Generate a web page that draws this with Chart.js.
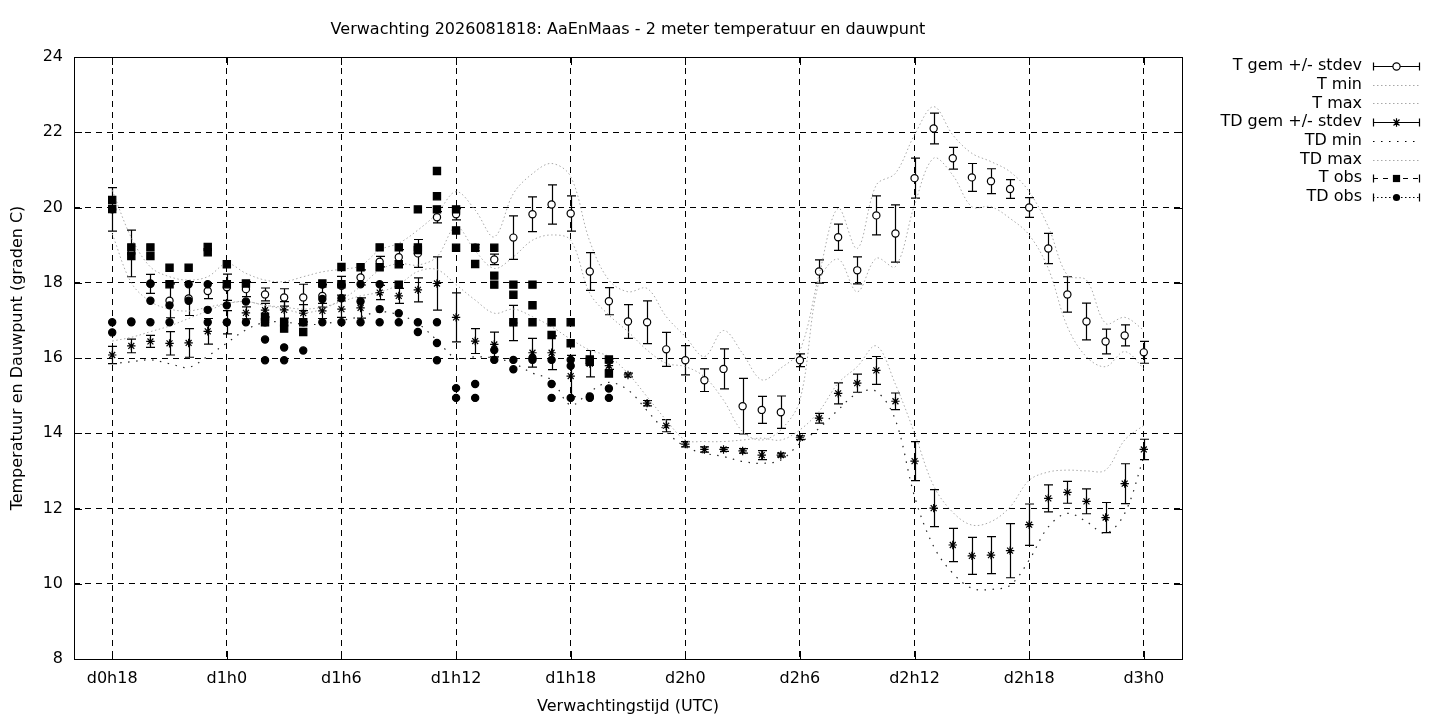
<!DOCTYPE html>
<html><head><meta charset="utf-8">
<script src="https://cdn.jsdelivr.net/npm/chart.js@4.4.0/dist/chart.umd.min.js"></script>
<style>html,body{margin:0;padding:0;background:#fff;overflow:hidden}canvas{display:block}</style>
</head><body>
<canvas id="c" width="1440" height="720" style="width:1440px;height:720px"></canvas>
<script>
// ---- data ----
const titleText = 'Verwachting 2026081818: AaEnMaas - 2 meter temperatuur en dauwpunt';
const xTitle = 'Verwachtingstijd (UTC)';
const yTitle = 'Temperatuur en Dauwpunt (graden C)';
const seriesNames = ['T gem +/- stdev','T min','T max','TD gem +/- stdev','TD min','TD max','T obs','TD obs'];

const hours = [18,19,20,21,22,23,24,25,26,27,28,29,30,31,32,33,34,35,36,37,38,39,40,41,42,43,44,45,
  46,47,48,49,50,51,52,53,54,55,56,57,58,59,60,61,62,63,64,65,66,67,68,69,70,71,72];
const tickHours = [18,24,30,36,42,48,54,60,66,72];
const tickLabels = ['d0h18','d1h0','d1h6','d1h12','d1h18','d2h0','d2h6','d2h12','d2h18','d3h0'];

const tMean = [19.95,18.78,17.97,17.52,17.58,17.78,17.88,17.83,17.69,17.61,17.61,17.65,17.92,18.14,18.56,18.68,18.78,19.74,19.82,18.93,
  18.62,19.20,19.82,20.08,19.84,18.30,17.51,16.97,16.95,16.23,15.94,15.41,15.71,14.72,14.62,14.56,15.94,18.30,19.21,18.33,
  19.79,19.31,20.78,22.10,21.31,20.80,20.70,20.49,20.00,18.91,17.69,16.97,16.44,16.60,16.15];
const tStd = [0.58,0.62,0.25,0.45,0.45,0.20,0.35,0.20,0.17,0.23,0.35,0.30,0.25,0.20,0.14,0.20,0.37,0.15,0.15,0.08,
  0.14,0.58,0.46,0.52,0.47,0.50,0.36,0.45,0.57,0.45,0.39,0.30,0.53,0.74,0.36,0.43,0.17,0.31,0.35,0.36,
  0.52,0.76,0.53,0.41,0.29,0.37,0.33,0.25,0.26,0.40,0.47,0.49,0.33,0.28,0.29];
const tMin = [19.30,18.00,17.50,17.30,17.25,17.35,17.45,17.50,17.40,17.30,17.20,17.30,17.55,17.90,18.34,18.51,18.47,18.69,19.49,18.85,
  18.38,18.69,19.13,19.27,19.13,17.72,17.14,16.70,16.21,15.86,15.77,15.50,14.88,14.04,13.82,14.09,14.88,18.03,18.63,17.76,
  18.65,18.43,20.07,21.31,20.86,20.02,20.02,19.71,19.27,18.38,16.83,16.03,15.77,16.17,15.72];
const tMax = [20.46,19.20,18.42,18.16,18.07,18.16,18.51,18.25,18.07,18.03,18.16,18.29,18.36,18.45,18.87,19.05,19.40,19.84,20.42,19.93,
  19.22,20.37,20.90,21.17,20.82,19.10,18.07,17.76,17.85,17.10,16.57,16.04,16.73,16.12,15.42,15.73,16.20,18.21,19.98,18.91,
  20.60,20.91,21.93,22.68,21.93,21.44,21.22,20.95,20.42,19.49,18.20,18.07,16.92,17.08,16.74];

const tdMean = [16.08,16.32,16.44,16.39,16.40,16.71,16.95,17.20,17.27,17.28,17.19,17.25,17.30,17.33,17.74,17.65,17.81,17.98,17.08,16.45,
  16.36,16.93,16.14,16.14,15.52,15.85,15.80,15.55,14.80,14.20,13.71,13.57,13.57,13.53,13.42,13.42,13.88,14.40,15.06,15.33,
  15.67,14.85,13.26,12.01,11.03,10.74,10.76,10.88,11.57,12.27,12.43,12.19,11.76,12.66,13.57];
const tdStd = [0.23,0.18,0.16,0.31,0.38,0.34,0.31,0.16,0.18,0.22,0.23,0.20,0.22,0.27,0.19,0.20,0.32,0.71,0.65,0.33,
  0.33,0.47,0.38,0.45,0.55,0.35,0.10,0.05,0.07,0.16,0.07,0.07,0.05,0.06,0.12,0.05,0.05,0.13,0.28,0.24,
  0.37,0.22,0.52,0.49,0.44,0.49,0.49,0.72,0.55,0.36,0.29,0.33,0.40,0.53,0.27];
const tdMin = [15.85,15.90,15.95,15.85,15.75,16.05,16.40,16.75,16.95,16.95,16.90,16.90,17.00,17.10,17.23,17.15,16.92,16.47,15.99,16.03,
  16.00,15.86,15.60,15.41,14.75,15.10,15.35,15.15,14.60,14.04,13.64,13.47,13.38,13.25,13.20,13.29,13.73,14.13,14.62,15.06,
  15.11,14.35,12.32,10.99,10.28,9.88,9.85,9.96,10.63,11.51,11.87,11.65,11.34,11.87,13.37];
const tdMax = [16.45,16.55,16.70,16.85,17.05,17.25,17.45,17.50,17.40,17.35,17.30,17.35,17.50,17.65,17.75,17.95,18.30,18.35,17.95,17.54,
  17.19,17.30,17.10,16.83,16.50,16.21,16.04,15.59,14.97,14.35,13.82,13.78,13.78,13.82,13.87,13.82,14.09,14.58,15.33,15.77,
  16.32,15.30,14.00,12.60,11.90,11.56,11.65,12.04,12.75,12.97,13.02,13.00,13.02,13.82,14.21];

const obsHours = [18,19,20,21,22,23,24,25,26,27,28,29,30,31,32,33,34,35,36,37,38,39,40,41,42,43,44];
const tObs = [[20.20,19.96],[18.94,18.71],[18.94,18.71],[18.40,17.96],[18.40],[18.95,18.81],[18.49,17.96],[17.98],
  [17.10,16.95],[16.95,16.78],[16.95,16.69],[17.98],[18.42,17.96],[18.41],[18.94,18.41],[18.94,18.49,17.95],
  [19.95,18.94,18.87],[20.97,20.30,19.95],[19.95,19.39,18.93],[18.93,18.50],[18.93,18.19,17.95],[17.95,17.68,16.95],
  [17.95,17.40,16.95],[16.95,16.61],[16.95,16.39],[15.96,15.90],[15.96,15.59]];
const tdObs = [[16.95,16.68],[16.97,16.95],[17.98,17.52,16.95],[17.40,16.95],[17.96,17.52],[17.96,17.28,16.95],[17.40,16.95],
  [17.50,16.95],[16.95,16.49,15.94],[16.95,16.28,15.94],[16.95,16.20],[17.95,17.57,16.95],[17.95,17.59,16.95],
  [17.96,17.50,16.95],[17.96,17.30,16.95],[17.19,16.95],[16.95,16.69],[16.95,16.40,15.94],[15.20,14.94],[15.31,14.94],
  [16.21,15.95],[15.95,15.70],[16.00,15.95],[15.95,15.31,14.94],[15.95,15.79,14.94],[14.98,14.94],[15.19,14.94]];

// ---- styling ----
const FONT = '"DejaVu Sans", "Liberation Sans", sans-serif';
const FS = 16;
const GRAY = '#a8a8a8';
const GRAYDASH = [1.5, 2.5];
const TDMINDASH = [1.5, 6.5];

function pts(ys){ return hours.map((h,i)=>({x:h,y:ys[i]})); }
function obsPts(arr){ const out=[]; obsHours.forEach((h,i)=>arr[i].forEach(v=>out.push({x:h,y:v}))); return out; }

function drawMarker(ctx, style, x, y){
  ctx.save();
  ctx.setLineDash([]);
  ctx.lineWidth = 1.2;
  ctx.strokeStyle = '#000';
  if (style === 'circleOpen'){
    ctx.fillStyle='#fff'; ctx.beginPath(); ctx.arc(x,y,3.6,0,Math.PI*2); ctx.fill(); ctx.stroke();
  } else if (style === 'circle'){
    ctx.fillStyle='#000'; ctx.beginPath(); ctx.arc(x,y,3.6,0,Math.PI*2); ctx.fill();
  } else if (style === 'rect'){
    ctx.fillStyle='#000'; ctx.fillRect(x-3.6,y-3.6,7.2,7.2);
  } else if (style === 'star'){
    const r=4.2, d=r*Math.SQRT1_2;
    ctx.beginPath(); ctx.moveTo(x-r,y); ctx.lineTo(x+r,y); ctx.moveTo(x,y-r); ctx.lineTo(x,y+r);
    ctx.moveTo(x-d,y-d); ctx.lineTo(x+d,y+d); ctx.moveTo(x-d,y+d); ctx.lineTo(x+d,y-d); ctx.stroke();
  }
  ctx.restore();
}

const errPlugin = {
  id:'errbars',
  beforeDatasetsDraw(chart){
    const {ctx, scales:{x,y}, chartArea:a} = chart;
    ctx.save();
    ctx.beginPath(); ctx.rect(a.left,a.top,a.right-a.left,a.bottom-a.top); ctx.clip();
    ctx.strokeStyle='#000'; ctx.lineWidth=1.2; ctx.setLineDash([]);
    const draw=(means,stds)=>{
      hours.forEach((h,i)=>{
        const px=Math.round(x.getPixelForValue(h))+0.5;
        const y1=y.getPixelForValue(means[i]-stds[i]);
        const y2=y.getPixelForValue(means[i]+stds[i]);
        ctx.beginPath();
        ctx.moveTo(px,y1); ctx.lineTo(px,y2);
        ctx.moveTo(px-4.5,y1); ctx.lineTo(px+4.5,y1);
        ctx.moveTo(px-4.5,y2); ctx.lineTo(px+4.5,y2);
        ctx.stroke();
      });
    };
    draw(tMean,tStd); draw(tdMean,tdStd);
    ctx.restore();
  }
};

const framePlugin = {
  id:'frame',
  afterDatasetsDraw(chart){
    const {ctx, chartArea:a, scales:{x,y}} = chart;
    ctx.save();
    ctx.strokeStyle='#000'; ctx.lineWidth=1; ctx.setLineDash([]);
    ctx.strokeRect(Math.round(a.left)+0.5, Math.round(a.top)+0.5, Math.round(a.right-a.left), Math.round(a.bottom-a.top));
    ctx.beginPath();
    y.ticks.forEach(t=>{ const py=Math.round(y.getPixelForValue(t.value))+0.5;
      ctx.moveTo(a.left,py); ctx.lineTo(a.left+8,py); ctx.moveTo(a.right,py); ctx.lineTo(a.right-8,py); });
    x.ticks.forEach(t=>{ const px=Math.round(x.getPixelForValue(t.value))+0.5;
      ctx.moveTo(px,a.bottom); ctx.lineTo(px,a.bottom-8); ctx.moveTo(px,a.top); ctx.lineTo(px,a.top+8); });
    ctx.stroke();
    ctx.restore();
  },
  afterDraw(chart){
    const {ctx, chartArea:a} = chart;
    ctx.save();
    ctx.fillStyle='#000';
    ctx.font = FS+'px '+FONT;
    ctx.textBaseline='middle';
    ctx.textAlign='center';
    const cx=(a.left+a.right)/2;
    ctx.fillText(titleText, cx, 30);
    ctx.fillText(xTitle, cx, 707);
    ctx.save(); ctx.translate(18,(a.top+a.bottom)/2); ctx.rotate(-Math.PI/2); ctx.fillText(yTitle,0,0); ctx.restore();
    // legend
    const kinds = [
      {k:'err', m:'circleOpen'}, {k:'line', c:GRAY, d:GRAYDASH}, {k:'line', c:GRAY, d:GRAYDASH},
      {k:'err', m:'star'}, {k:'line', c:'#000', d:TDMINDASH}, {k:'line', c:GRAY, d:GRAYDASH},
      {k:'obs', m:'rect', d:[5,5]}, {k:'obs', m:'circle', d:[1.5,2.5]}
    ];
    const x0=1373, x1=1420, xm=(x0+x1)/2;
    seriesNames.forEach((name,i)=>{
      const ly = 66 + i*18.7;
      ctx.textAlign='right';
      ctx.fillText(name, 1362, ly);
      const k = kinds[i];
      const py = Math.round(ly)+0.5;
      ctx.save();
      if (k.k==='line'){
        ctx.strokeStyle=k.c; ctx.lineWidth=1; ctx.setLineDash(k.d);
        ctx.beginPath(); ctx.moveTo(x0,py); ctx.lineTo(x1,py); ctx.stroke();
      } else {
        ctx.strokeStyle='#000'; ctx.lineWidth=1.2;
        ctx.setLineDash(k.k==='err'?[]:k.d);
        ctx.beginPath(); ctx.moveTo(x0,py); ctx.lineTo(x1,py); ctx.stroke();
        ctx.setLineDash([]);
        ctx.beginPath(); ctx.moveTo(x0+0.5,py-4); ctx.lineTo(x0+0.5,py+4); ctx.moveTo(x1-0.5,py-4); ctx.lineTo(x1-0.5,py+4); ctx.stroke();
        drawMarker(ctx, k.m, xm, py);
      }
      ctx.restore();
    });
    ctx.restore();
  }
};

const lineDs = (label, ys, color, dash, width) => ({
  label, data: pts(ys), borderColor: color, borderWidth: width, borderDash: dash,
  pointRadius: 0, fill: false, tension: 0.35, showLine: true
});
const pointDs = (label, data, style, radius, bg) => ({
  label, data, showLine: false, pointStyle: style, pointRadius: radius, pointHoverRadius: radius,
  pointBackgroundColor: bg, pointBorderColor: '#000', pointBorderWidth: 1.2, borderColor:'#000', backgroundColor: bg
});

const datasets = [
  pointDs(seriesNames[7], obsPts(tdObs), 'circle', 3.6, '#000'),
  pointDs(seriesNames[6], obsPts(tObs), 'rect', 5.1, '#000'),
  lineDs(seriesNames[5], tdMax, GRAY, GRAYDASH, 1),
  lineDs(seriesNames[4], tdMin, '#222', TDMINDASH, 1.2),
  pointDs(seriesNames[3], pts(tdMean), 'star', 4.2, '#000'),
  lineDs(seriesNames[2], tMax, GRAY, GRAYDASH, 1),
  lineDs(seriesNames[1], tMin, GRAY, GRAYDASH, 1),
  pointDs(seriesNames[0], pts(tMean), 'circle', 3.6, '#fff'),
];

new Chart(document.getElementById('c'), {
  type: 'line',
  data: { datasets },
  options: {
    responsive: false, animation: false, devicePixelRatio: 1,
    layout: { padding: { left: 0, right: 258, top: 57, bottom: 0 } },
    plugins: { legend: { display: false }, title: { display: false }, tooltip: { enabled: false } },
    scales: {
      x: {
        type: 'linear', min: 16, max: 74,
        afterBuildTicks: s => { s.ticks = tickHours.map(v => ({ value: v })); },
        afterFit: s => { s.height = 61; },
        ticks: { callback: v => tickLabels[tickHours.indexOf(v)], color: '#000', font: { family: FONT, size: FS }, padding: 10, maxRotation: 0, autoSkip: false },
        grid: { color: '#000', lineWidth: 1, drawTicks: false },
        border: { display: false, dash: [6, 5] }
      },
      y: {
        type: 'linear', min: 8, max: 24,
        ticks: { stepSize: 2, color: '#000', font: { family: FONT, size: FS }, padding: 11 },
        afterFit: s => { s.width = 74; },
        grid: { color: '#000', lineWidth: 1, drawTicks: false },
        border: { display: false, dash: [6, 5] }
      }
    }
  },
  plugins: [errPlugin, framePlugin]
});
</script>
</body></html>
